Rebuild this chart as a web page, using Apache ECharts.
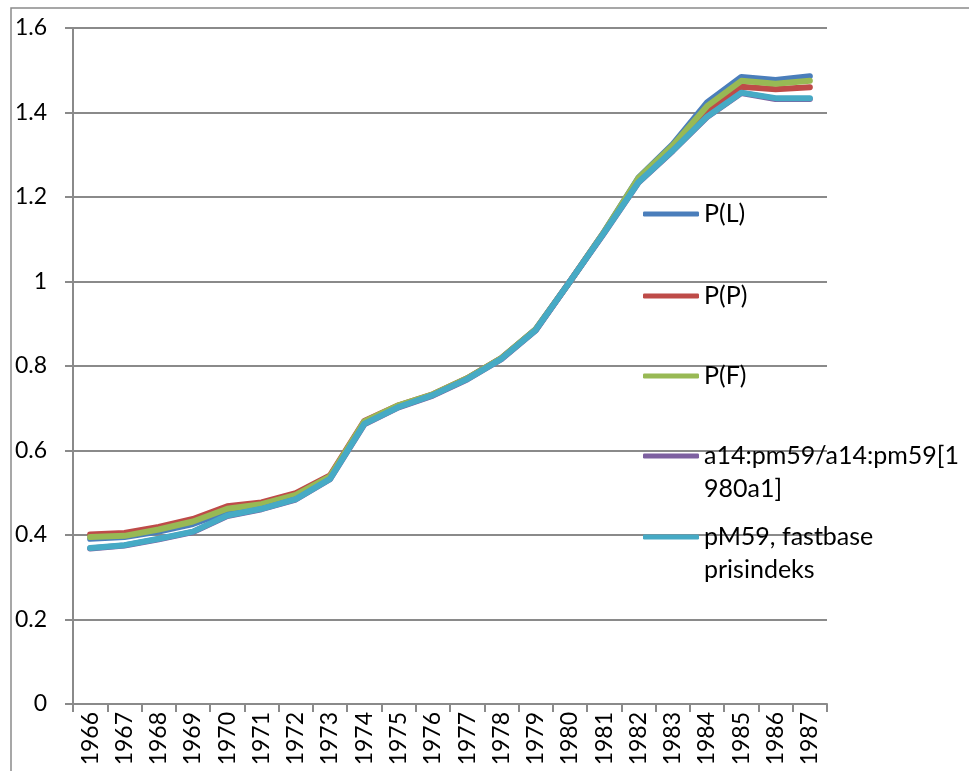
<!DOCTYPE html>
<html>
<head>
<meta charset="utf-8">
<script src="https://cdn.jsdelivr.net/npm/echarts@6/dist/echarts.min.js"></script>
<style>
  html, body { margin: 0; padding: 0; background: #ffffff; }
  #chart { width: 969px; height: 771px; }
</style>
</head>
<body>
<div id="chart"></div>
<script>
// years on the x axis
var years = ['1966', '1967', '1968', '1969', '1970', '1971', '1972', '1973', '1974', '1975', '1976',
  '1977', '1978', '1979', '1980', '1981', '1982', '1983', '1984', '1985', '1986', '1987'];

// values
var pL = [0.391, 0.395, 0.408, 0.426, 0.455, 0.468, 0.490, 0.535, 0.665, 0.705, 0.732,
  0.770, 0.818, 0.887, 1.000, 1.118, 1.246, 1.325, 1.424, 1.484, 1.477, 1.486];
var pP = [0.401, 0.405, 0.419, 0.438, 0.468, 0.477, 0.499, 0.541, 0.670, 0.707, 0.733,
  0.771, 0.819, 0.886, 1.000, 1.117, 1.242, 1.318, 1.404, 1.461, 1.455, 1.460];
var pF = [0.395, 0.398, 0.413, 0.432, 0.462, 0.473, 0.495, 0.539, 0.669, 0.707, 0.733,
  0.771, 0.819, 0.887, 1.000, 1.118, 1.245, 1.322, 1.415, 1.475, 1.468, 1.475];
var a14 = [0.368, 0.375, 0.390, 0.407, 0.445, 0.461, 0.484, 0.532, 0.662, 0.702, 0.730,
  0.768, 0.816, 0.884, 1.000, 1.115, 1.234, 1.309, 1.389, 1.446, 1.432, 1.432];
var pM59 = [0.369, 0.376, 0.391, 0.408, 0.446, 0.462, 0.485, 0.533, 0.663, 0.703, 0.731,
  0.769, 0.817, 0.885, 1.000, 1.116, 1.235, 1.310, 1.390, 1.447, 1.434, 1.434];

var names = ['P(L)', 'P(P)', 'P(F)', 'a14:pm59/a14:pm59[1980a1]', 'pM59, fastbase prisindeks'];
var yTicks = [0, 0.2, 0.4, 0.6, 0.8, 1, 1.2, 1.4, 1.6];

var chart = echarts.init(document.getElementById('chart'));

var colors = ['#4a7ebb', '#be4b48', '#98b954', '#7d60a0', '#46aac5'];
var allData = [pL, pP, pF, a14, pM59];

// legend labels as wrapped in the picture (icon lines up with first line)
var legendText = {
  'a14:pm59/a14:pm59[1980a1]': '\na14:pm59/a14:pm59[1\n980a1]',
  'pM59, fastbase prisindeks': '\npM59, fastbase\nprisindeks'
};
var legendCenters = [214, 296, 376, 456, 537];
var lh = 33;

var legends = names.map(function (n, i) {
  var multi = legendText[n] != null;
  return {
    data: [n],
    orient: 'vertical',
    left: 643,
    top: legendCenters[i] - (multi ? lh * 1.5 : lh / 2),
    padding: 0,
    itemWidth: 56,
    itemHeight: 5,
    icon: 'roundRect',
    selectedMode: false,
    formatter: function (name) { return legendText[name] || name; },
    textStyle: { fontFamily: 'Lato', fontSize: 25, color: '#000', lineHeight: lh }
  };
});

var option = {
  animation: false,
  backgroundColor: '#ffffff',
  color: colors,
  graphic: [{
    type: 'rect',
    shape: { x: 11, y: 8, width: 1000, height: 800 },
    style: { fill: 'none', stroke: '#8a8a8a', lineWidth: 1.5 },
    silent: true
  }],
  grid: { left: 73, right: 142, top: 28, bottom: 67 },
  legend: legends,
  xAxis: {
    type: 'category',
    data: years,
    boundaryGap: true,
    axisLine: { lineStyle: { color: '#8a8a8a', width: 2 } },
    axisTick: { show: true, length: 8, alignWithLabel: false, lineStyle: { color: '#8a8a8a', width: 2 } },
    axisLabel: { rotate: 90, margin: 8, interval: 0, fontFamily: 'Lato', fontSize: 23, color: '#000' }
  },
  yAxis: {
    type: 'value',
    min: yTicks[0],
    max: yTicks[yTicks.length - 1],
    interval: 0.2,
    axisLine: { show: true, lineStyle: { color: '#8a8a8a', width: 2 } },
    axisTick: { show: true, length: 8, lineStyle: { color: '#8a8a8a', width: 2 } },
    splitLine: { lineStyle: { color: '#8a8a8a', width: 2 } },
    axisLabel: {
      margin: 26, fontFamily: 'Lato', fontSize: 23, color: '#000',
      formatter: function (v) { return String(Math.round(v * 10) / 10); }
    }
  },
  series: allData.map(function (d, i) {
    return {
      name: names[i],
      type: 'line',
      data: d,
      symbol: 'none',
      smooth: false,
      lineStyle: { width: 6, color: colors[i], cap: 'round', join: 'round' },
      itemStyle: { color: colors[i] }
    };
  })
};

chart.setOption(option);
</script>
</body>
</html>
